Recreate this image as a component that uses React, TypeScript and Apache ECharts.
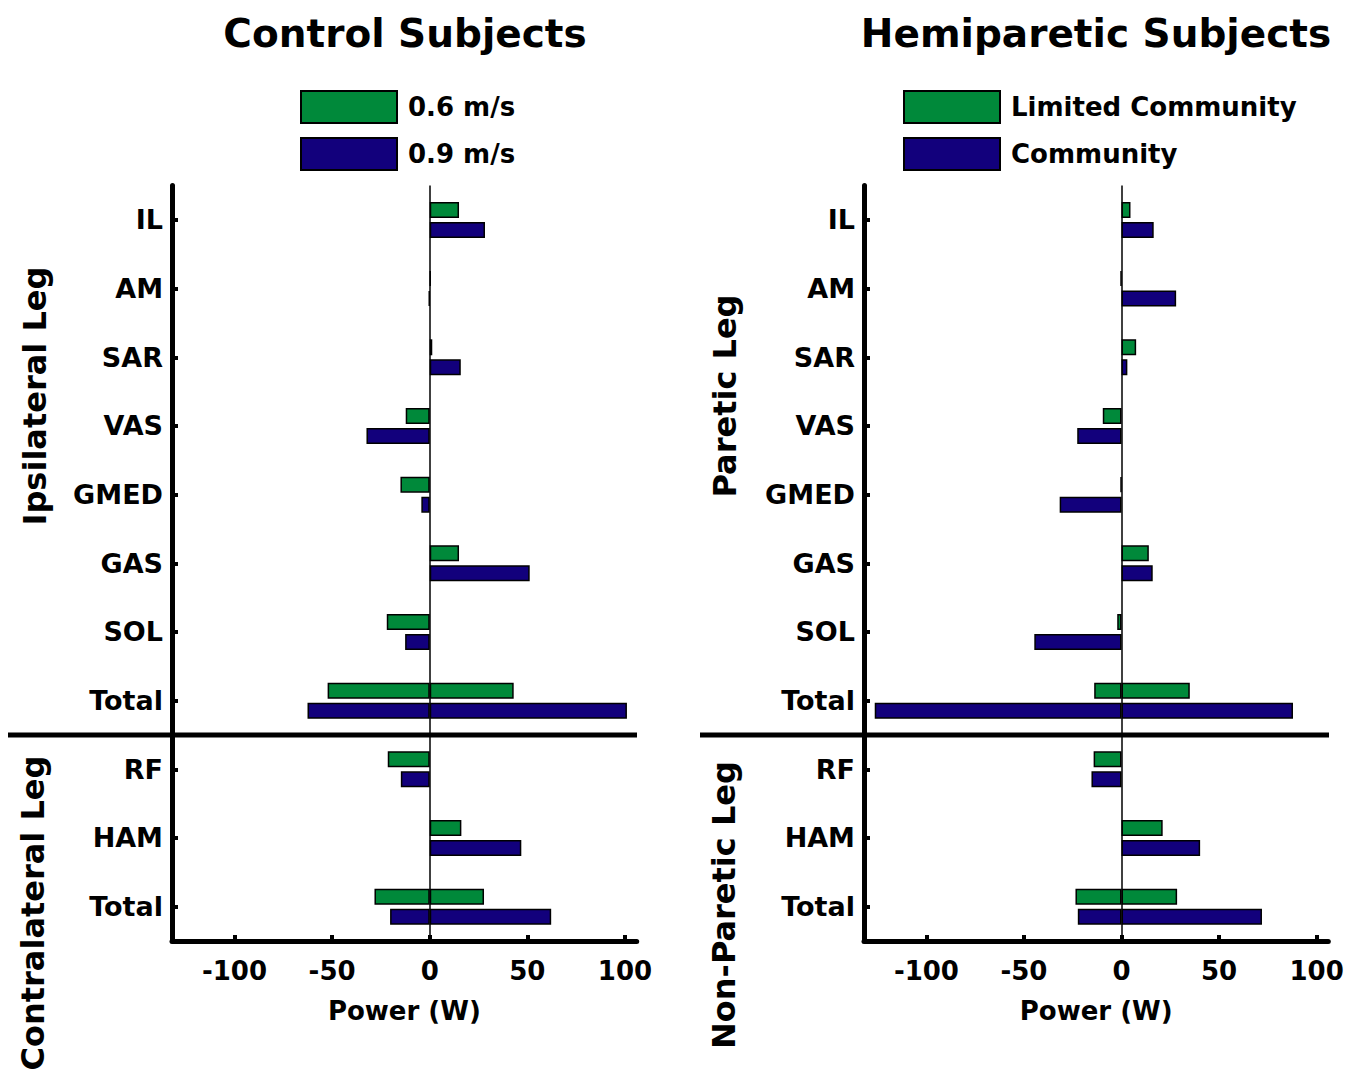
import React, { useEffect, useRef } from 'react';
import * as echarts from 'echarts';

const muscles = ['IL', 'AM', 'SAR', 'VAS', 'GMED', 'GAS', 'SOL', 'Total', 'RF', 'HAM', 'Total'];
const tickValues = [-100, -50, 0, 50, 100];

// Control subjects (W): positive and negative parts; Totals span both
const controlSlowPos = [15, 0.5, 1.3, '-', '-', 15, '-', 43, '-', 16.2, 27.8];
const controlSlowNeg = ['-', '-', '-', -12.3, -15, '-', -22, -52.3, -21.5, '-', -28.3];
const controlFastPos = [28.3, '-', 15.9, '-', '-', 51.2, '-', 101, '-', 46.9, 62.2];
const controlFastNeg = ['-', -0.5, '-', -32.4, -4.3, '-', -12.6, -62.6, -14.8, '-', -20.3];

// Hemiparetic subjects (W)
const hemiLimitedPos = [4.6, '-', 7.5, '-', '-', 14, '-', 35, '-', 21.1, 28.5];
const hemiLimitedNeg = ['-', -0.5, '-', -9.6, -0.5, '-', -2.2, -14, -14.3, '-', -23.6];
const hemiCommunityPos = [16.5, 28, 3, '-', '-', 16, '-', 87.9, '-', 40.3, 72];
const hemiCommunityNeg = ['-', '-', '-', -22.7, -31.7, '-', -44.7, -126.5, -15.4, '-', -22.4];

const GREEN = '#00893A';
const BLUE = '#12007C';
const FONT = 'DejaVu Sans';

function bar(name: string, data: any[], stack: string, color: string, idx: number, zero = false) {
  const s: any = {
    type: 'bar',
    name,
    data,
    stack,
    xAxisIndex: idx,
    yAxisIndex: idx,
    barWidth: 16,
    barGap: '25%',
    itemStyle: { color, borderColor: '#000', borderWidth: 1.5 },
    emphasis: { disabled: true },
  };
  if (zero) {
    s.markLine = {
      silent: true,
      symbol: ['none', 'none'],
      label: { show: false },
      lineStyle: { color: '#000', width: 1.5, type: 'solid' },
      emphasis: { disabled: true },
      data: [{ xAxis: 0 }],
    };
  }
  return s;
}

function xAxis(idx: number) {
  return {
    type: 'value',
    gridIndex: idx,
    min: -132,
    max: 106,
    name: 'Power (W)',
    nameLocation: 'middle',
    nameGap: 57,
    nameTextStyle: { fontFamily: FONT, fontWeight: 'bold', fontSize: 26, color: '#000' },
    axisLine: { show: true, onZero: false, lineStyle: { color: '#000', width: 5 } },
    axisTick: { show: true, inside: true, length: 6, lineStyle: { color: '#000', width: 4 }, customValues: tickValues },
    axisLabel: { customValues: tickValues, fontFamily: FONT, fontWeight: 'bold', fontSize: 26, color: '#000', margin: 17 },
    splitLine: { show: false },
  };
}

function yAxis(idx: number) {
  return {
    type: 'category',
    gridIndex: idx,
    data: muscles,
    inverse: true,
    axisLine: { show: true, onZero: false, lineStyle: { color: '#000', width: 5 } },
    axisTick: { show: true, inside: true, alignWithLabel: true, length: 6, lineStyle: { color: '#000', width: 4 } },
    axisLabel: { fontFamily: FONT, fontWeight: 'bold', fontSize: 27, color: '#000', margin: 9 },
    splitLine: { show: false },
  };
}

function legend(names: string[], left: number) {
  return {
    data: names,
    orient: 'vertical',
    left,
    top: 90,
    padding: 0,
    itemWidth: 96,
    itemHeight: 32,
    itemGap: 13,
    icon: 'rect',
    selectedMode: false,
    textStyle: { fontFamily: FONT, fontWeight: 'bold', fontSize: 26, color: '#000', padding: [0, 0, 0, 6] },
  };
}

export default function App() {
  const ref = useRef<HTMLDivElement>(null);
  useEffect(() => {
    document.body.style.margin = '0';
    if (!ref.current) return;
    const chart = echarts.init(ref.current, null, { renderer: 'svg' });
    const option: any = {
      animation: false,
      backgroundColor: '#fff',
      grid: [
        { left: 172, top: 185.6, width: 464.7, height: 755.4 },
        { left: 864, top: 185.6, width: 464.3, height: 755.4 },
      ],
      xAxis: [xAxis(0), xAxis(1)],
      yAxis: [yAxis(0), yAxis(1)],
      legend: [legend(['0.6 m/s', '0.9 m/s'], 300), legend(['Limited Community', 'Community'], 903)],
      series: [
        bar('0.6 m/s', controlSlowPos, 'cs', GREEN, 0, true),
        bar('0.6 m/s', controlSlowNeg, 'cs', GREEN, 0),
        bar('0.9 m/s', controlFastPos, 'cf', BLUE, 0),
        bar('0.9 m/s', controlFastNeg, 'cf', BLUE, 0),
        bar('Limited Community', hemiLimitedPos, 'hl', GREEN, 1, true),
        bar('Limited Community', hemiLimitedNeg, 'hl', GREEN, 1),
        bar('Community', hemiCommunityPos, 'hc', BLUE, 1),
        bar('Community', hemiCommunityNeg, 'hc', BLUE, 1),
      ],
    };
    chart.setOption(option);

    const p7 = chart.convertToPixel({ yAxisIndex: 0 } as any, 7) as unknown as number;
    const p8 = chart.convertToPixel({ yAxisIndex: 0 } as any, 8) as unknown as number;
    const divY = (p7 + p8) / 2;
    const textStyle = (text: string, size: number) => ({
      text,
      font: `bold ${size}px "${FONT}"`,
      fill: '#000',
      align: 'center',
      verticalAlign: 'middle',
    });
    chart.setOption({
      graphic: [
        { type: 'line', shape: { x1: 8, y1: divY, x2: 637, y2: divY }, style: { stroke: '#000', lineWidth: 5 }, silent: true },
        { type: 'line', shape: { x1: 700, y1: divY, x2: 1329, y2: divY }, style: { stroke: '#000', lineWidth: 5 }, silent: true },
        { type: 'text', x: 405, y: 33, style: textStyle('Control Subjects', 39) },
        { type: 'text', x: 1096, y: 33, style: textStyle('Hemiparetic Subjects', 39) },
        { type: 'text', x: 35, y: 396, rotation: Math.PI / 2, style: textStyle('Ipsilateral Leg', 32) },
        { type: 'text', x: 33, y: 913, rotation: Math.PI / 2, style: textStyle('Contralateral Leg', 32) },
        { type: 'text', x: 725, y: 396, rotation: Math.PI / 2, style: textStyle('Paretic Leg', 32) },
        { type: 'text', x: 724, y: 905, rotation: Math.PI / 2, style: textStyle('Non-Paretic Leg', 32) },
      ],
    });
    return () => chart.dispose();
  }, []);
  return <div ref={ref} style={{ width: 1360, height: 1076 }} />;
}
